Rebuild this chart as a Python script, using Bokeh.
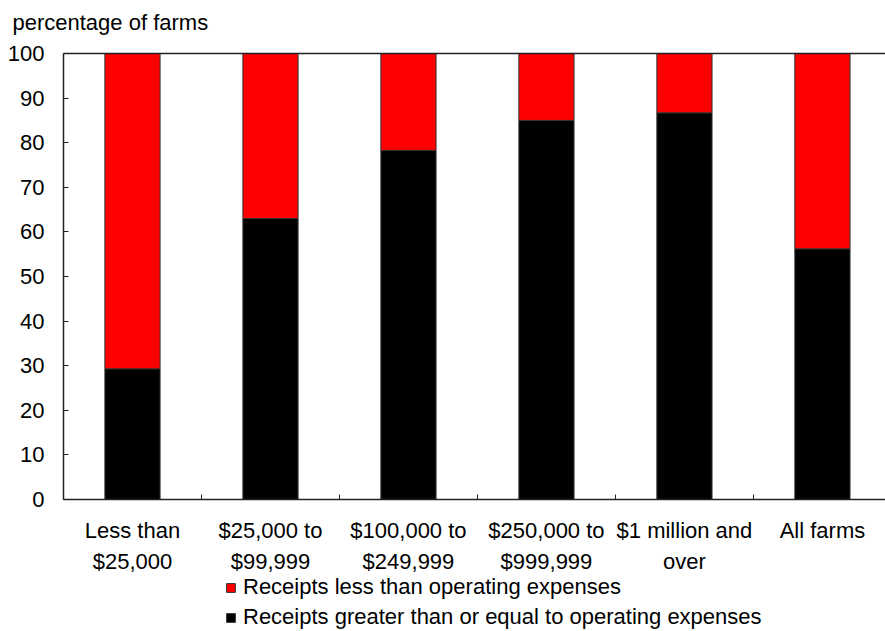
import numpy as np
from bokeh.plotting import figure
from bokeh.models import (Range1d, FixedTicker, LinearAxis, Legend, LegendItem, Label,
                          ColumnDataSource)
from bokeh.embed import file_html
from bokeh.resources import INLINE

# ---- data ----
cat_line1 = ["Less than", "$25,000 to", "$100,000 to", "$250,000 to", "$1 million and", "All farms"]
cat_line2 = ["$25,000", "$99,999", "$249,999", "$999,999", "over", " "]
greater = [29.3, 63.0, 78.3, 85.0, 86.7, 56.2]
less = [70.7, 37.0, 21.7, 15.0, 13.3, 43.8]
y_ticks = [0, 10, 20, 30, 40, 50, 60, 70, 80, 90, 100]
series_names = ["Receipts greater than or equal to operating expenses",
                "Receipts less than operating expenses"]
series_colors = ["#000000", "#ff0000"]
y_title = "percentage of farms"

FONT = "Liberation Sans"
FS = "22px"
AX = "#222222"

n = len(cat_line1)
centers = [i + 0.5 for i in range(n)]
bounds = [i + 1 for i in range(n - 1)]

src = ColumnDataSource(dict(x=centers, greater=greater, less=less))

# the frame covers the whole window; axes are pinned at x=0 / y=0 / y=100
p = figure(width=885, height=631, output_backend="svg", toolbar_location=None,
           x_range=Range1d(-0.4565, 5.957), y_range=Range1d(-29.6, 111.88),
           min_border=0, x_axis_location=None, y_axis_location=None)

p.outline_line_color = None
p.xgrid.visible = False
p.ygrid.visible = False
p.background_fill_color = "white"
p.border_fill_color = "white"

rs = p.vbar_stack(["greater", "less"], x="x", width=0.4, source=src,
                  color=series_colors, line_color="#333333", line_width=1)

# y axis
yaxis = LinearAxis(ticker=FixedTicker(ticks=y_ticks), bounds=(0, 100), fixed_location=0)
yaxis.axis_line_color = AX
yaxis.axis_line_width = 1.5
yaxis.major_tick_in = 5
yaxis.major_tick_out = 0
yaxis.minor_tick_line_color = None
yaxis.major_tick_line_color = AX
yaxis.major_label_text_font = FONT
yaxis.major_label_text_font_size = FS
yaxis.major_label_text_color = "#000000"
yaxis.major_label_standoff = 19
p.add_layout(yaxis, "left")

# top frame line
xtop = LinearAxis(ticker=FixedTicker(ticks=[]), bounds=(0, 6), fixed_location=100)
xtop.axis_line_color = AX
xtop.axis_line_width = 1.5
xtop.major_tick_line_color = None
xtop.minor_tick_line_color = None
xtop.major_label_text_alpha = 0
p.add_layout(xtop, "above")

# x axis line 1
xaxis1 = LinearAxis(ticker=FixedTicker(ticks=centers, minor_ticks=bounds),
                    bounds=(0, 6), fixed_location=0)
xaxis1.axis_line_color = AX
xaxis1.axis_line_width = 1.5
xaxis1.major_tick_line_color = None
xaxis1.minor_tick_in = 5
xaxis1.minor_tick_out = 0
xaxis1.minor_tick_line_color = AX
xaxis1.major_label_overrides = {c: t for c, t in zip(centers, cat_line1)}
xaxis1.major_label_text_font = FONT
xaxis1.major_label_text_font_size = FS
xaxis1.major_label_text_color = "#000000"
xaxis1.major_label_standoff = 13
p.add_layout(xaxis1, "below")

# x axis line 2
xaxis2 = LinearAxis(ticker=FixedTicker(ticks=centers), fixed_location=0)
xaxis2.axis_line_color = None
xaxis2.major_tick_line_color = None
xaxis2.minor_tick_line_color = None
xaxis2.major_label_overrides = {c: t for c, t in zip(centers, cat_line2)}
xaxis2.major_label_text_font = FONT
xaxis2.major_label_text_font_size = FS
xaxis2.major_label_text_color = "#000000"
xaxis2.major_label_standoff = 44
p.add_layout(xaxis2, "below")

# y axis title (horizontal, above the axis)
p.add_layout(Label(x=-0.3696, y=106.95, text=y_title, text_font=FONT, text_font_size=FS,
                   text_color="#000000", text_baseline="alphabetic", text_align="left"))

legend = Legend(items=[LegendItem(label=series_names[1], renderers=[rs[1]]),
                       LegendItem(label=series_names[0], renderers=[rs[0]])],
                location=(225, 1), orientation="vertical")
legend.label_text_font = FONT
legend.label_text_font_size = FS
legend.label_text_color = "#000000"
legend.glyph_width = 11
legend.glyph_height = 11
legend.label_height = 22
legend.label_standoff = 7
legend.spacing = 4
legend.padding = 0
legend.margin = 0
legend.border_line_color = None
legend.background_fill_alpha = 0
p.add_layout(legend, "center")

open("out.html", "w").write(file_html(p, INLINE))
